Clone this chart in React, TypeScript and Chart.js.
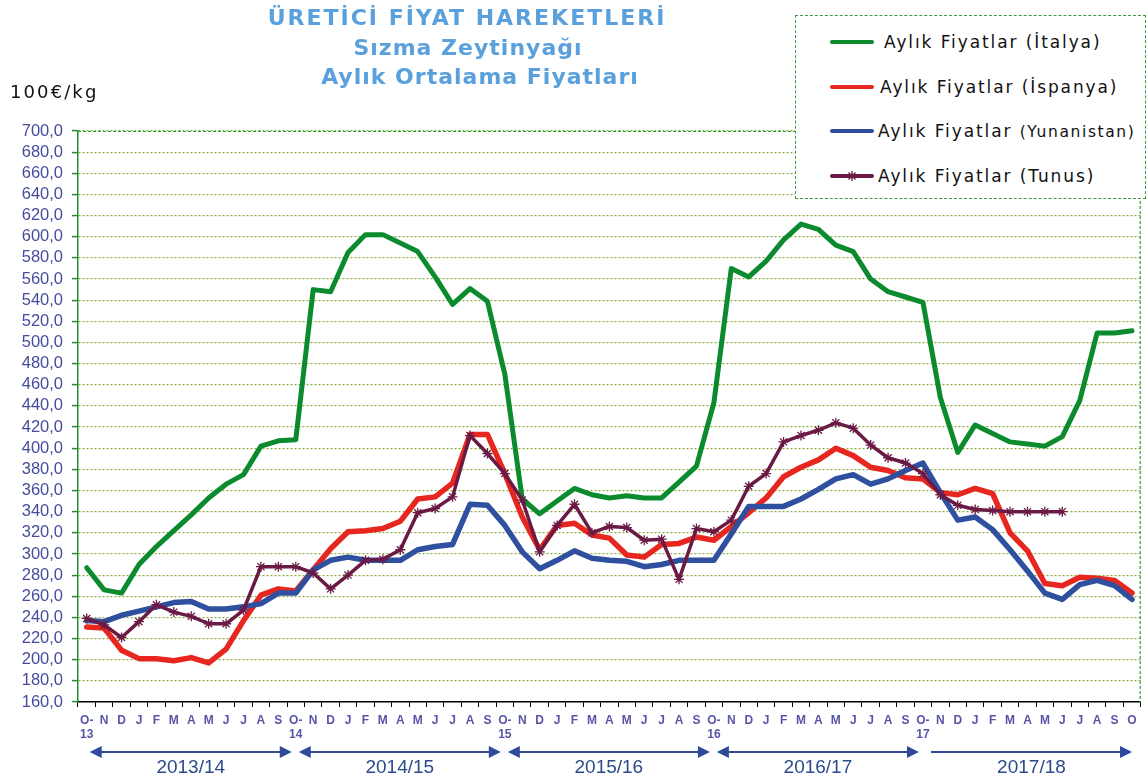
import React, { useEffect, useRef } from "react";
import { Chart, registerables } from "chart.js";

Chart.register(...registerables);

const categories: (string | string[])[] = [
  ["O-", "13"], "N", "D", "J", "F", "M", "A", "M", "J", "J", "A", "S",
  ["O-", "14"], "N", "D", "J", "F", "M", "A", "M", "J", "J", "A", "S",
  ["O-", "15"], "N", "D", "J", "F", "M", "A", "M", "J", "J", "A", "S",
  ["O-", "16"], "N", "D", "J", "F", "M", "A", "M", "J", "J", "A", "S",
  ["O-", "17"], "N", "D", "J", "F", "M", "A", "M", "J", "J", "A", "S",
  "O",
];

const italy = [
  287, 266, 263, 290, 307, 322, 337, 353, 366, 375, 402, 407, 408,
  550, 548, 585, 602, 602, 594, 586, 562, 536, 551, 539, 470,
  352, 338, 350, 362, 356, 353, 355, 353, 353, 368, 383, 443,
  570, 562, 577, 597, 612, 607, 592, 586, 560, 548, 543, 538,
  448, 396, 422, 414, 406, 404, 402, 411, 445, 509, 509, 511,
];

const spain = [
  231, 230, 209, 201, 201, 199, 202, 197, 210, 237, 261, 267, 265,
  285, 305, 321, 322, 324, 331, 352, 354, 367, 413, 413, 376,
  335, 304, 327, 329, 318, 315, 299, 297, 309, 310, 316, 313,
  326, 339, 353, 373, 382, 389, 400, 393, 382, 379, 372, 371,
  358, 356, 362, 357, 320, 303, 272, 270, 278, 277, 275, 263,
];

const greece = [
  237, 236, 242, 246, 250, 254, 255, 248, 248, 250, 253, 263, 263,
  285, 294, 297, 294, 294, 294, 304, 307, 309, 347, 346, 327,
  302, 286, 294, 303, 296, 294, 293, 288, 290, 294, 294, 294,
  319, 345, 345, 345, 352, 361, 371, 375, 366, 371, 379, 386,
  358, 332, 335, 323, 304, 284, 263, 257, 271, 275, 270, 257,
];

const tunisia = [
  239, 233, 221, 236, 252, 245, 241, 234, 234, 247, 288, 288, 288,
  282, 267, 280, 294, 295, 304, 339, 343, 354, 412, 395, 376,
  351, 302, 327, 347, 320, 326, 325, 313, 314, 276, 324, 321,
  332, 364, 376, 406, 412, 417, 424, 419, 403, 391, 386, 376,
  356, 346, 342, 341, 340, 340, 340, 340,
];

const seasons = ["2013/14", "2014/15", "2015/16", "2016/17", "2017/18"];

const titleLines = ["ÜRETİCİ FİYAT HAREKETLERİ", "Sızma Zeytinyağı", "Aylık Ortalama Fiyatları"];

const legendItems = [
  { label: "Aylık Fiyatlar", country: "(İtalya)", color: "#0b8a2e", star: false, left: 88, small: false },
  { label: "Aylık Fiyatlar", country: "(İspanya)", color: "#e6261f", star: false, left: 84, small: false },
  { label: "Aylık Fiyatlar", country: "(Yunanistan)", color: "#2f4f9f", star: false, left: 82, small: true },
  { label: "Aylık Fiyatlar", country: "(Tunus)", color: "#6a1a45", star: true, left: 82, small: false },
];

const GREEN = "#0b8a2e";
const RED = "#e6261f";
const BLUE = "#2f4f9f";
const MAROON = "#6a1a45";
const AXIS_GREEN = "#1f8f32";
const GRID_GREEN = "#8aab3c";
const TICK_BLUE = "#464c9c";
const ARROW_BLUE = "#2f4a98";

const decorPlugin = {
  id: "decor",
  afterDraw(chart: any) {
    const { ctx, chartArea: ca, scales } = chart;
    const x = scales.x;
    ctx.save();
    ctx.strokeStyle = "#2e9b3c";
    ctx.lineWidth = 1.2;
    ctx.setLineDash([3, 2]);
    ctx.beginPath();
    ctx.moveTo(ca.left, ca.top + 0.5);
    ctx.lineTo(ca.right, ca.top + 0.5);
    ctx.moveTo(ca.right - 0.5, ca.top);
    ctx.lineTo(ca.right - 0.5, ca.bottom);
    ctx.stroke();
    ctx.setLineDash([]);

    const ay = 752;
    const head = 12;
    const hw = 6;
    seasons.forEach((s, k) => {
      const last = k === seasons.length - 1;
      const a = x.getPixelForValue(k * 12) + (last ? 8 : 3);
      const b = x.getPixelForValue(Math.min(k * 12 + 12, categories.length - 1)) - (last ? 0 : 4);
      ctx.strokeStyle = ARROW_BLUE;
      ctx.fillStyle = ARROW_BLUE;
      ctx.lineWidth = 2;
      ctx.beginPath();
      ctx.moveTo(last ? a : a + head - 1, ay);
      ctx.lineTo(b - head + 1, ay);
      ctx.stroke();
      ctx.beginPath();
      ctx.moveTo(b, ay);
      ctx.lineTo(b - head, ay - hw);
      ctx.lineTo(b - head, ay + hw);
      ctx.closePath();
      ctx.fill();
      if (!last) {
        ctx.beginPath();
        ctx.moveTo(a, ay);
        ctx.lineTo(a + head, ay - hw);
        ctx.lineTo(a + head, ay + hw);
        ctx.closePath();
        ctx.fill();
      }
      ctx.font = "19px 'Liberation Sans', Arial, sans-serif";
      ctx.textAlign = "center";
      ctx.textBaseline = "middle";
      ctx.fillStyle = "#2c4a8c";
      ctx.fillText(s, (a + b) / 2, 768);
    });
    ctx.restore();
  },
};

export default function App() {
  const canvasRef = useRef<HTMLCanvasElement | null>(null);

  useEffect(() => {
    document.body.style.margin = "0";
    const canvas = canvasRef.current;
    if (!canvas) return;
    const chart = new Chart(canvas, {
      type: "line",
      data: {
        labels: categories,
        datasets: [
          {
            label: "Aylık Fiyatlar (İtalya)",
            data: italy,
            borderColor: GREEN,
            backgroundColor: GREEN,
            borderWidth: 5,
            pointRadius: 0,
            tension: 0,
            borderJoinStyle: "round",
            borderCapStyle: "round",
            order: 3,
          },
          {
            label: "Aylık Fiyatlar (İspanya)",
            data: spain,
            borderColor: RED,
            backgroundColor: RED,
            borderWidth: 5.5,
            pointRadius: 0,
            tension: 0,
            borderJoinStyle: "round",
            borderCapStyle: "round",
            order: 2,
          },
          {
            label: "Aylık Fiyatlar (Yunanistan)",
            data: greece,
            borderColor: BLUE,
            backgroundColor: BLUE,
            borderWidth: 5.5,
            pointRadius: 0,
            tension: 0,
            borderJoinStyle: "round",
            borderCapStyle: "round",
            order: 1,
          },
          {
            label: "Aylık Fiyatlar (Tunus)",
            data: tunisia,
            borderColor: MAROON,
            backgroundColor: MAROON,
            borderWidth: 3.5,
            pointStyle: "star",
            pointRadius: 5,
            pointBorderWidth: 1.3,
            pointBorderColor: MAROON,
            tension: 0,
            borderJoinStyle: "round",
            borderCapStyle: "round",
            order: 0,
          },
        ],
      },
      options: {
        animation: false,
        responsive: false,
        maintainAspectRatio: false,
        devicePixelRatio: 1,
        layout: { padding: { top: 131, left: 0, right: 2, bottom: 0 } },
        plugins: {
          legend: { display: false },
          title: { display: false },
          tooltip: { enabled: false },
        },
        scales: {
          x: {
            type: "category",
            offset: true,
            grid: {
              offset: true,
              drawOnChartArea: false,
              drawTicks: true,
              tickLength: 5,
              color: "#000",
              lineWidth: 1,
            },
            border: { color: "#000", width: 1.5 },
            ticks: {
              autoSkip: false,
              maxRotation: 0,
              minRotation: 0,
              padding: 6,
              color: "#5656a8",
              font: { family: "'Liberation Sans', Arial, sans-serif", size: 12, weight: "bold", lineHeight: 1.2 },
            },
            afterFit: (s: any) => {
              s.height = 80;
            },
          },
          y: {
            min: 160,
            max: 700,
            ticks: {
              stepSize: 20,
              autoSkip: false,
              padding: 9,
              color: TICK_BLUE,
              font: { family: "'Liberation Sans', Arial, sans-serif", size: 16.5 },
              callback: (v: any) => Number(v).toFixed(1).replace(".", ","),
            },
            grid: {
              color: GRID_GREEN,
              lineWidth: 1.2,
              drawTicks: true,
              tickLength: 6,
              tickColor: AXIS_GREEN,
              tickWidth: 1.5,
            },
            border: { color: AXIS_GREEN, width: 1.5, dash: [2, 2] },
            afterFit: (s: any) => {
              s.width = 78;
            },
          },
        },
      },
      plugins: [decorPlugin],
    } as any);
    return () => chart.destroy();
  }, []);

  const titleShift = [0, 1, 13];

  return (
    <div style={{ position: "relative", width: 1147, height: 782, overflow: "hidden", background: "#fff" }}>
      <canvas ref={canvasRef} width={1147} height={782} style={{ display: "block" }} />
      <div
        style={{
          position: "absolute",
          left: 217,
          width: 500,
          top: 3,
          textAlign: "center",
          color: "#5aa0dc",
          fontFamily: "'DejaVu Sans', Verdana, sans-serif",
          fontWeight: "bold",
          fontSize: 22,
          lineHeight: "29.5px",
        }}
      >
        {titleLines.map((t, i) => (
          <div
            key={t}
            style={{ whiteSpace: "nowrap", letterSpacing: i === 0 ? 2 : 1, position: "relative", left: titleShift[i] }}
          >
            {t}
          </div>
        ))}
      </div>
      <div
        style={{
          position: "absolute",
          left: 10,
          top: 80,
          fontFamily: "'DejaVu Sans', Verdana, sans-serif",
          fontSize: 18,
          letterSpacing: 2.1,
          color: "#111",
          whiteSpace: "nowrap",
          lineHeight: "24px",
        }}
      >
        100€/kg
      </div>
      <div
        style={{
          position: "absolute",
          left: 795,
          top: 15,
          width: 349,
          height: 182,
          background: "#fff",
          border: "1px dashed #3a9a3a",
        }}
      >
        {legendItems.map((it, i) => (
          <div
            key={it.country}
            style={{
              position: "absolute",
              left: 0,
              top: 26 + i * 44.7 - 12,
              height: 24,
              width: 349,
            }}
          >
            <svg width={50} height={24} style={{ position: "absolute", left: 34, top: 0 }}>
              <line x1={2} y1={12} x2={42} y2={12} stroke={it.color} strokeWidth={4} strokeLinecap="round" />
              {it.star ? (
                <g stroke={it.color} strokeWidth={1.3}>
                  <line x1={17} y1={12} x2={27} y2={12} />
                  <line x1={22} y1={7} x2={22} y2={17} />
                  <line x1={18.5} y1={8.5} x2={25.5} y2={15.5} />
                  <line x1={18.5} y1={15.5} x2={25.5} y2={8.5} />
                </g>
              ) : null}
            </svg>
            <div
              style={{
                position: "absolute",
                left: it.left,
                top: 0,
                lineHeight: "24px",
                fontFamily: "'DejaVu Sans', Verdana, sans-serif",
                fontSize: 17,
                letterSpacing: 1.9,
                color: "#111",
                whiteSpace: "nowrap",
              }}
            >
              {it.label}{" "}
              <span style={it.small ? { fontSize: 15.5, letterSpacing: 1.6 } : undefined}>{it.country}</span>
            </div>
          </div>
        ))}
      </div>
    </div>
  );
}
